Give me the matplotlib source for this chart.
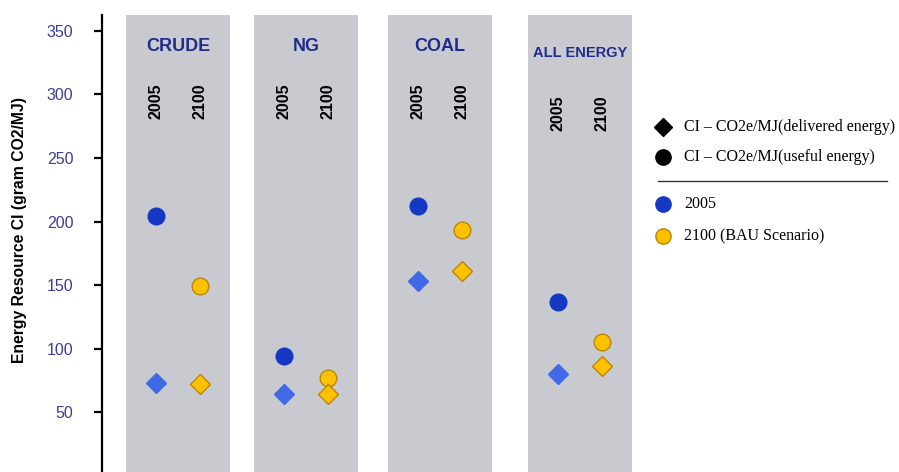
import matplotlib
matplotlib.use("Agg")
import matplotlib.pyplot as plt

plt.rcParams['font.family'] = ['Liberation Sans', 'DejaVu Sans']

# data
resources = ['CRUDE', 'NG', 'COAL', 'ALL ENERGY']
years = ['2005', '2100']
useful_2005 = [204, 94, 212, 137]
useful_2100 = [149, 77, 193, 105]
delivered_2005 = [73, 64, 153, 80]
delivered_2100 = [72, 64, 161, 86]

# layout (axes x units ~ pixels from the y axis)
panel_x = [76, 204, 338, 478]
panel_w = 104
offset = 22

blue_dark = '#1538c2'
blue_light = '#4169e6'
gold = '#ffc000'
gold_edge = '#b8860b'
panel_grey = '#c9cacf'
title_col = '#1f2c8c'
tick_col = '#3c3c9a'

fig = plt.figure(figsize=(8.99, 4.72), dpi=100)
ax = fig.add_axes([102 / 899, 0, 538 / 899, 457 / 472])
ax.set_xlim(0, 538)
ax.set_ylim(3, 362.5)

for i, name in enumerate(resources):
    cx = panel_x[i]
    ax.axvspan(cx - panel_w / 2, cx + panel_w / 2, color=panel_grey, zorder=0, lw=0)
    small = name == 'ALL ENERGY'
    ax.text(cx, 337.5 if not small else 333, name, ha='center', va='center',
            fontsize=10.5 if small else 13, fontweight='bold', color=title_col)
    for j, yr in enumerate(years):
        ax.text(cx + (2 * j - 1) * offset, 295 if not small else 285, yr,
                rotation=90, ha='center', va='center', fontsize=11.5,
                fontweight='bold', color='black')

x05 = [c - offset for c in panel_x]
x21 = [c + offset for c in panel_x]
ax.plot(x05, useful_2005, 'o', ms=12, color=blue_dark, mec=blue_dark, zorder=3)
ax.plot(x21, useful_2100, 'o', ms=12, color=gold, mec=gold_edge, mew=1, zorder=3)
ax.plot(x05, delivered_2005, 'D', ms=10, color=blue_light, mec=blue_light, zorder=3)
ax.plot(x21, delivered_2100, 'D', ms=10, color=gold, mec=gold_edge, mew=1, zorder=3)

for s in ['top', 'right', 'bottom']:
    ax.spines[s].set_visible(False)
ax.spines['left'].set_linewidth(1.6)
ax.set_xticks([])
ax.set_yticks([50, 100, 150, 200, 250, 300, 350])
ax.tick_params(axis='y', length=5.5, width=1.6, pad=15, labelsize=11.5,
               labelcolor=tick_col)

fig.text(20 / 899, 1 - 230 / 472, 'Energy Resource CI (gram CO2/MJ)', rotation=90,
         ha='center', va='center', fontsize=11.3, fontweight='bold')

# legend drawn in pixel space
lg = fig.add_axes([0, 0, 1, 1])
lg.set_xlim(0, 899)
lg.set_ylim(472, 0)
lg.axis('off')
serif = 'Liberation Serif'
lg.plot([663], [127], 'D', ms=9, color='black')
lg.plot([663], [157], 'o', ms=11, color='black')
lg.plot([658, 887], [181, 181], color='#333333', lw=1)
lg.plot([663], [204], 'o', ms=11, color=blue_dark)
lg.plot([663], [236], 'o', ms=11, color=gold, mec=gold_edge, mew=1)
labels = ['CI \u2013 CO2e/MJ(delivered energy)', 'CI \u2013 CO2e/MJ(useful energy)',
          '2005', '2100 (BAU Scenario)']
for yy, t in zip([127, 157, 204, 236], labels):
    lg.text(684, yy, t, ha='left', va='center', fontsize=11.5, family=serif)

fig.savefig('out.png', dpi=100)
